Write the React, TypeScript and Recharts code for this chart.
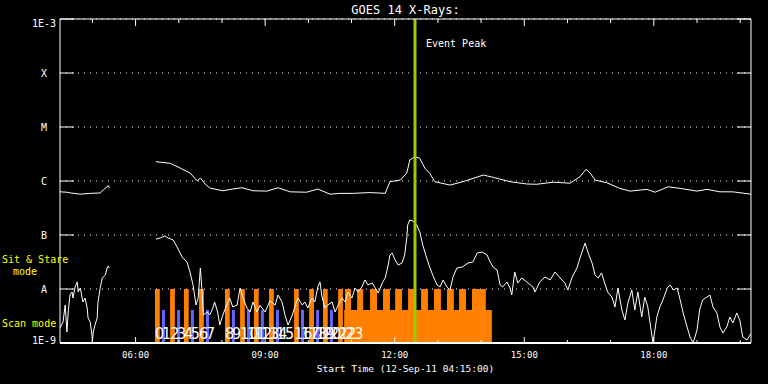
import {
  ComposedChart,
  Line,
  XAxis,
  YAxis,
  CartesianGrid,
  ReferenceArea,
  ReferenceLine,
  Scatter,
} from "recharts";

// GOES 14 flux in W/m^2, time in decimal hours (12-Sep-11)
const longChannel: [number, number | null][] = [
  [4.25, 6.3e-7], [4.41, 6.2e-7], [4.5, 6.0e-7], [4.72, 5.7e-7], [4.95, 5.9e-7],
  [5.18, 6.0e-7], [5.25, 6.8e-7], [5.37, 8.2e-7], [5.39, 7.4e-7],
  [5.9, null],
  [6.47, 2.28e-6], [6.8, 2.13e-6], [7.03, 1.74e-6], [7.26, 1.41e-6], [7.43, 1.0e-6],
  [7.5, 1.14e-6], [7.61, 8.8e-7], [7.72, 7.4e-7], [8.02, 6.6e-7], [8.25, 7.1e-7],
  [8.46, 7.5e-7], [8.72, 6.6e-7], [9.04, 6.5e-7], [9.3, 7.5e-7], [9.58, 6.3e-7],
  [9.96, 6.2e-7], [10.22, 7.1e-7], [10.5, 5.7e-7], [10.73, 5.9e-7], [11.03, 5.9e-7],
  [11.43, 6.1e-7], [11.78, 5.9e-7], [11.89, 9.7e-7], [12.13, 1.04e-6], [12.28, 1.41e-6],
  [12.35, 2.45e-6], [12.47, 2.82e-6], [12.58, 2.63e-6], [12.7, 1.72e-6], [12.81, 1.39e-6],
  [12.93, 9.7e-7], [13.28, 8.4e-7], [13.58, 9.7e-7], [14.05, 1.29e-6], [14.28, 1.17e-6],
  [14.67, 9.7e-7], [15.06, 8.8e-7], [15.29, 8.7e-7], [15.67, 9.5e-7], [16.06, 9.1e-7],
  [16.29, 1.2e-6], [16.43, 1.65e-6], [16.53, 1.39e-6], [16.64, 1.04e-6], [16.91, 9.3e-7],
  [17.21, 7.3e-7], [17.45, 6.5e-7], [17.84, 7.0e-7], [18.03, 6.2e-7], [18.33, 7.8e-7],
  [18.61, 7.3e-7], [19.0, 6.5e-7], [19.23, 7.0e-7], [19.53, 6.3e-7], [19.83, 6.3e-7],
  [20.25, 5.7e-7],
];

const shortChannel: [number, number | null][] = [
  [4.25, 1.9e-9], [4.32, 2.45e-9], [4.37, 5.05e-9], [4.41, 1.6e-9], [4.44, 3.75e-9],
  [4.48, 7.74e-9], [4.53, 8.8e-9], [4.55, 6.8e-9], [4.6, 1.09e-8], [4.65, 1.35e-8],
  [4.67, 8.8e-9], [4.72, 1.04e-8], [4.76, 7.1e-9], [4.78, 5.75e-9], [4.83, 6.8e-9],
  [4.88, 4.45e-9], [4.9, 2.9e-9], [4.95, 2.45e-9], [4.99, 1.4e-9], [5.0, 1.05e-9],
  [5.02, 1.6e-9], [5.06, 2.15e-9], [5.11, 2.9e-9], [5.13, 5.75e-9], [5.18, 1.04e-8],
  [5.23, 1.6e-8], [5.25, 1.67e-8], [5.3, 1.82e-8], [5.34, 2.45e-8], [5.37, 2.67e-8],
  [5.39, 2.45e-8],
  [5.9, null],
  [6.47, 8.4e-8], [6.57, 8.8e-8], [6.68, 9.6e-8], [6.75, 8.8e-8], [6.87, 8.1e-8],
  [6.96, 6.0e-8], [7.08, 3.9e-8], [7.19, 3.16e-8], [7.26, 2.06e-8], [7.33, 1.19e-8],
  [7.4, 5.05e-9], [7.45, 6.8e-9], [7.5, 2.45e-8], [7.54, 8.8e-9], [7.57, 3.3e-9],
  [7.66, 3.75e-9], [7.72, 3.3e-9], [7.79, 4.45e-9], [7.83, 5.75e-9], [7.9, 3.75e-9],
  [7.95, 2.15e-9], [8.02, 3.3e-9], [8.11, 5.05e-9], [8.18, 6.8e-9], [8.25, 4.64e-9],
  [8.35, 5.05e-9], [8.42, 1.04e-8], [8.49, 6.8e-9], [8.58, 4.45e-9], [8.65, 3.75e-9],
  [8.72, 5.75e-9], [8.81, 3.75e-9], [8.88, 5.0e-9], [9.0, 3.75e-9], [9.11, 6.0e-9],
  [9.23, 5.05e-9], [9.3, 7.74e-9], [9.39, 5.75e-9], [9.46, 3.3e-9], [9.53, 2.15e-9],
  [9.63, 3.3e-9], [9.7, 5.05e-9], [9.76, 6.8e-9], [9.86, 5.05e-9], [9.92, 5.75e-9],
  [9.99, 4.45e-9], [10.08, 6.8e-9], [10.15, 5.75e-9], [10.22, 1.09e-8], [10.27, 1.35e-8],
  [10.31, 7.74e-9], [10.38, 4.45e-9], [10.45, 5.05e-9], [10.55, 5.75e-9], [10.62, 3.75e-9],
  [10.69, 5.05e-9], [10.78, 6.8e-9], [10.85, 5.75e-9], [10.92, 8.8e-9], [11.01, 6.8e-9],
  [11.08, 1.04e-8], [11.15, 8.8e-9], [11.24, 1.09e-8], [11.31, 1.47e-8], [11.38, 1.19e-8],
  [11.48, 1.29e-8], [11.55, 1.04e-8], [11.62, 8.4e-9], [11.71, 1.29e-8], [11.78, 1.6e-8],
  [11.85, 2.78e-8], [11.89, 4.26e-8], [11.94, 4.64e-8], [12.01, 3.44e-8], [12.08, 2.78e-8],
  [12.17, 3.03e-8], [12.23, 4.26e-8], [12.28, 8.8e-8], [12.3, 1.53e-7], [12.35, 1.9e-7],
  [12.42, 1.82e-7], [12.51, 1.53e-7], [12.58, 1.14e-7], [12.65, 6.5e-8], [12.74, 3.75e-8],
  [12.81, 2.55e-8], [12.88, 1.82e-8], [12.98, 1.19e-8], [13.05, 1.09e-8], [13.12, 1.47e-8],
  [13.21, 1.09e-8], [13.28, 9.6e-9], [13.35, 1.67e-8], [13.44, 2.45e-8], [13.56, 2.55e-8],
  [13.7, 3.03e-8], [13.81, 3.16e-8], [13.91, 4.64e-8], [14.02, 4.84e-8], [14.14, 4.26e-8],
  [14.21, 3.16e-8], [14.28, 2.55e-8], [14.37, 2.25e-8], [14.44, 1.19e-8], [14.5, 1.09e-8],
  [14.6, 1.35e-8], [14.67, 1.04e-8], [14.71, 7.74e-9], [14.78, 2.06e-8], [14.85, 1.29e-8],
  [14.94, 1.6e-8], [15.06, 1.35e-8], [15.2, 1.09e-8], [15.25, 8.8e-9], [15.36, 1.35e-8],
  [15.48, 1.67e-8], [15.6, 1.47e-8], [15.71, 2.06e-8], [15.83, 1.6e-8], [15.94, 1.29e-8],
  [16.01, 9.6e-9], [16.11, 1.67e-8], [16.22, 2.45e-8], [16.29, 3.75e-8], [16.41, 7.1e-8],
  [16.48, 4.64e-8], [16.57, 3.03e-8], [16.64, 1.82e-8], [16.71, 1.6e-8], [16.79, 1.98e-8],
  [16.86, 1.29e-8], [16.93, 8.8e-9], [17.03, 7.1e-9], [17.1, 4.64e-9], [17.17, 1.04e-8],
  [17.26, 4.08e-9], [17.33, 2.67e-9], [17.4, 5.5e-9], [17.49, 9.6e-9], [17.56, 4.08e-9],
  [17.63, 8.8e-9], [17.72, 3.03e-9], [17.79, 7.1e-9], [17.86, 4.64e-9], [17.96, 1.29e-9],
  [17.98, 1.0e-9], [18.07, 3.03e-9], [18.14, 4.64e-9], [18.21, 6.26e-9], [18.31, 1.04e-8],
  [18.38, 1.19e-8], [18.45, 9.6e-9], [18.54, 1.04e-8], [18.61, 6.26e-9], [18.68, 3.6e-9],
  [18.77, 1.98e-9], [18.84, 1.29e-9], [18.91, 1.0e-9], [19.0, 1.74e-9], [19.06, 4.08e-9],
  [19.13, 6.26e-9], [19.23, 7.1e-9], [19.3, 7.74e-9], [19.37, 4.64e-9], [19.46, 3.6e-9],
  [19.53, 1.98e-9], [19.6, 1.53e-9], [19.69, 1.98e-9], [19.76, 3.03e-9], [19.83, 2.35e-9],
  [19.92, 3.6e-9], [19.99, 2.67e-9], [20.06, 1.29e-9], [20.16, 1.14e-9], [20.2, 1.29e-9],
  [20.25, 1.5e-9],
];

// observing modes (start hours)
const stareStarts = [6.45, 6.8, 7.12, 7.47, 8.07, 8.42, 8.74, 9.09, 9.67, 10.02, 10.34, 10.69];
const scanStarts = [6.61, 6.96, 7.28, 7.63, 8.23, 8.58, 8.9, 9.25, 9.83, 10.18, 10.5, 10.85];
const stareLength = 0.11;
const scanLength = 0.07;
const stareLevel = 1e-8;
const scanLevel = 4.1e-9;
const scanBlock: [number, number] = [10.83, 14.25];
const stareDwells: [number, number][] = [
  [10.85, 10.99], [11.13, 11.27], [11.43, 11.59], [11.73, 11.89], [12.01, 12.17],
  [12.31, 12.47], [12.61, 12.77], [12.91, 13.07], [13.21, 13.37], [13.49, 13.65],
  [13.79, 14.11],
];
const eventPeak = 12.47;

const yTicks = [1e-9, 1e-8, 1e-7, 1e-6, 1e-5, 1e-4, 1e-3];
const yTickLabels = ["1E-9", "A", "B", "C", "M", "X", "1E-3"];
const hourTicks = [5, 6, 7, 8, 9, 10, 11, 12, 13, 14, 15, 16, 17, 18, 19, 20];
const labelledHours = [6, 9, 12, 15, 18];

const lcData = longChannel.map(([t, v]) => ({ t, v }));
const scData = shortChannel.map(([t, v]) => ({ t, v }));
const scanNumbers = [...stareStarts, ...scanStarts]
  .sort((a, b) => a - b)
  .map((t, n) => ({ t, v: 1.19e-9, n }));

const MONO = "'DejaVu Sans Mono', monospace";
const WHITE = "#ffffff";
const ORANGE = "#ff7f00";
const BLUE = "#6464ff";
const YELLOW = "#ffff00";

const hh = (h: number) => String(h).padStart(2, "0") + ":00";

function LeftTick({ x, y, payload }: any) {
  const i = Math.round(Math.log10(payload.value)) + 9;
  const shift = i === 0 ? -3 : i === yTicks.length - 1 ? 4 : 0;
  return (
    <g>
      <line x1={x + 16} x2={x + 30} y1={y} y2={y} stroke={WHITE} />
      <text x={x} y={y + shift} dy="0.35em" textAnchor="middle" fill={WHITE} fontSize={10} fontFamily={MONO}>
        {yTickLabels[i]}
      </text>
    </g>
  );
}

function RightTick({ x, y }: any) {
  return <line x1={x - 14} x2={x} y1={y} y2={y} stroke={WHITE} />;
}

function BottomTick({ x, y, payload }: any) {
  const major = labelledHours.includes(payload.value);
  return (
    <g>
      <line x1={x} x2={x} y1={y} y2={y - (major ? 6 : 3)} stroke={WHITE} />
      {major && (
        <text x={x} y={y + 15} textAnchor="middle" fill={WHITE} fontSize={9} fontFamily={MONO}>
          {hh(payload.value)}
        </text>
      )}
    </g>
  );
}

function TopTick({ x, y, payload }: any) {
  const major = labelledHours.includes(payload.value);
  return <line x1={x} x2={x} y1={y} y2={y + (major ? 7 : 4)} stroke={WHITE} />;
}

export default function App() {
  return (
    <div style={{ position: "absolute", left: 0, top: 0, width: 768, height: 384, background: "#000" }}>
      <ComposedChart width={768} height={384} margin={{ top: 0, right: 0, bottom: 0, left: 0 }}>
        <CartesianGrid horizontal vertical={false} stroke={WHITE} strokeDasharray="1 5" />
        <XAxis
          dataKey="t"
          type="number"
          domain={[4.25, 20.25]}
          allowDataOverflow
          ticks={hourTicks}
          interval={0}
          height={41}
          tickSize={0}
          tickMargin={0}
          tickLine={false}
          axisLine={{ stroke: WHITE, strokeWidth: 2 }}
          tick={(p: any) => <BottomTick {...p} />}
          label={(p: any) => (
            <text
              x={p.viewBox.x + p.viewBox.width / 2}
              y={p.viewBox.y + 29}
              textAnchor="middle"
              fill={WHITE}
              fontSize={9.5}
              fontFamily={MONO}
            >
              Start Time (12-Sep-11 04:15:00)
            </text>
          )}
        />
        <XAxis
          xAxisId="top"
          orientation="top"
          dataKey="t"
          type="number"
          domain={[4.25, 20.25]}
          allowDataOverflow
          ticks={hourTicks}
          interval={0}
          height={19}
          tickSize={0}
          tickMargin={0}
          tickLine={false}
          axisLine={{ stroke: WHITE }}
          tick={(p: any) => <TopTick {...p} />}
          label={(p: any) => (
            <text
              x={p.viewBox.x + p.viewBox.width / 2}
              y={p.viewBox.y + p.viewBox.height - 5}
              textAnchor="middle"
              fill={WHITE}
              fontSize={12}
              fontFamily={MONO}
            >
              GOES 14 X-Rays:
            </text>
          )}
        />
        <YAxis
          scale="log"
          domain={[1e-9, 1e-3]}
          allowDataOverflow
          ticks={yTicks}
          interval={0}
          width={60}
          tickSize={0}
          tickMargin={16}
          tickLine={false}
          axisLine={{ stroke: WHITE }}
          tick={(p: any) => <LeftTick {...p} />}
          label={(p: any) => {
            const vb = p.viewBox;
            const yAt = (v: number) => vb.y + (vb.height * (-3 - Math.log10(v))) / 6;
            return (
              <g fill={YELLOW} fontSize={10} fontFamily={MONO}>
                <text x={2} y={yAt(3.0e-8)}>Sit &amp; Stare</text>
                <text x={13} y={yAt(1.8e-8)}>mode</text>
                <text x={2} y={yAt(2.0e-9)}>Scan mode</text>
              </g>
            );
          }}
        />
        <YAxis
          yAxisId="right"
          orientation="right"
          scale="log"
          domain={[1e-9, 1e-3]}
          allowDataOverflow
          ticks={yTicks}
          interval={0}
          width={17}
          tickSize={0}
          tickMargin={0}
          tickLine={false}
          axisLine={{ stroke: WHITE }}
          tick={(p: any) => <RightTick {...p} />}
        />

        {stareStarts.map((t) => (
          <ReferenceArea key={"o" + t} x1={t} x2={t + stareLength} y1={1e-9} y2={stareLevel} fill={ORANGE} fillOpacity={1} stroke="none" />
        ))}
        {scanStarts.map((t) => (
          <ReferenceArea key={"b" + t} x1={t} x2={t + scanLength} y1={1e-9} y2={scanLevel} fill={BLUE} fillOpacity={1} stroke="none" />
        ))}
        <ReferenceArea x1={scanBlock[0]} x2={scanBlock[1]} y1={1e-9} y2={scanLevel} fill={ORANGE} fillOpacity={1} stroke="none" />
        {stareDwells.map(([a, b]) => (
          <ReferenceArea key={"d" + a} x1={a} x2={b} y1={1e-9} y2={stareLevel} fill={ORANGE} fillOpacity={1} stroke="none" />
        ))}

        <Line data={lcData} dataKey="v" stroke={WHITE} strokeWidth={1} dot={false} connectNulls={false} isAnimationActive={false} />
        <Line data={scData} dataKey="v" stroke={WHITE} strokeWidth={1} dot={false} connectNulls={false} isAnimationActive={false} />

        <ReferenceLine
          x={eventPeak}
          stroke="#99cc00"
          strokeWidth={3}
          label={(p: any) => (
            <text x={p.viewBox.x + 11} y={p.viewBox.y + 28} fill={WHITE} fontSize={10} fontFamily={MONO}>
              Event Peak
            </text>
          )}
        />

        <Scatter
          data={scanNumbers}
          dataKey="v"
          isAnimationActive={false}
          shape={(p: any) => (
            <text
              x={p.cx}
              y={p.cy}
              fill={WHITE}
              fontSize={16}
              fontFamily="'Liberation Sans Narrow', 'DejaVu Sans Condensed', sans-serif"
            >
              {p.payload.n}
            </text>
          )}
        />
      </ComposedChart>
    </div>
  );
}
